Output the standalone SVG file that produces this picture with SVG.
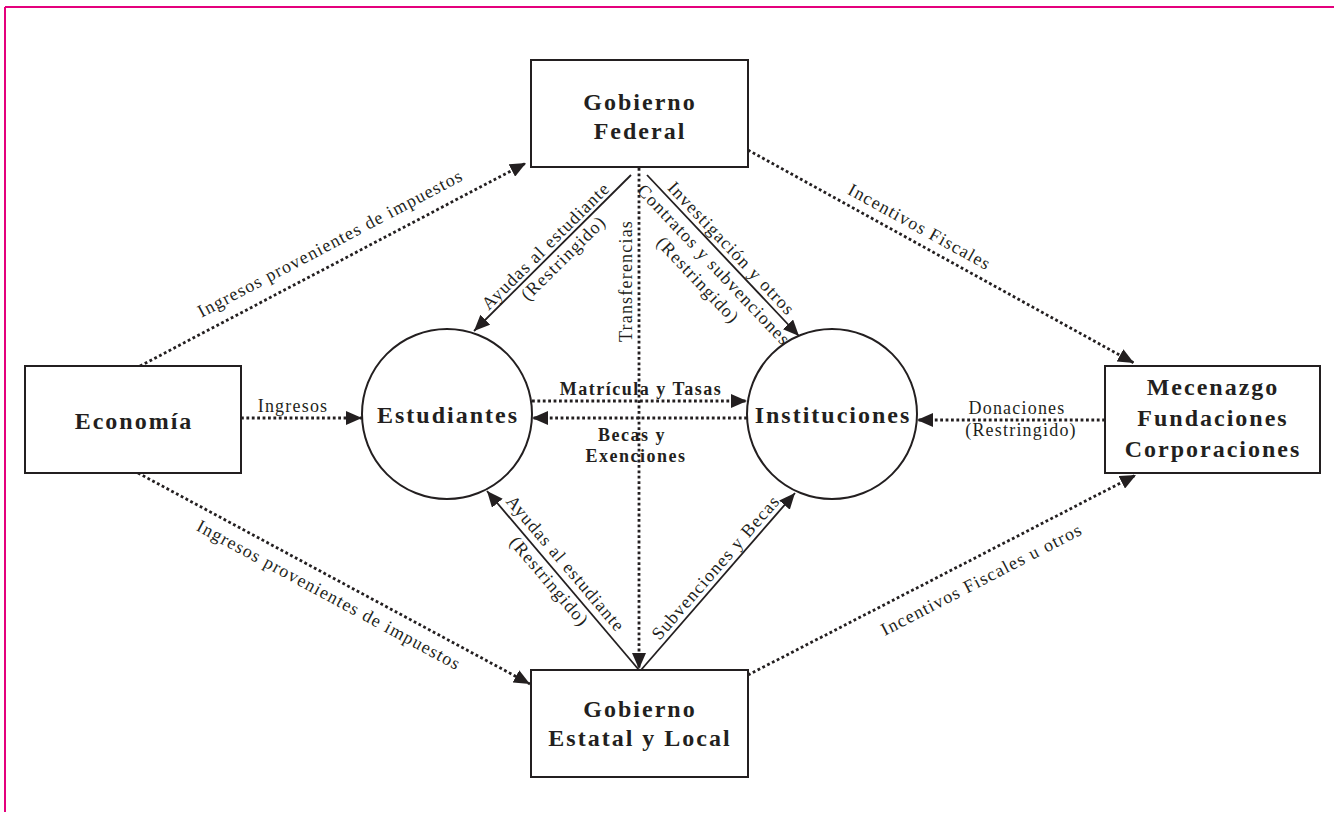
<svg xmlns="http://www.w3.org/2000/svg" width="1334" height="817" viewBox="0 0 1334 817">
<style>
.box{fill:#fff;stroke:#231f20;stroke-width:2}
.node{font-family:"Liberation Serif",serif;font-weight:bold;font-size:24px;letter-spacing:2px;fill:#231f20;text-anchor:middle}
.lbl{font-family:"Liberation Serif",serif;font-size:18px;letter-spacing:1.2px;fill:#231f20;text-anchor:middle}
.lblb{font-family:"Liberation Serif",serif;font-weight:bold;font-size:18px;letter-spacing:1.5px;fill:#231f20;text-anchor:middle}
.dot{fill:none;stroke:#231f20;stroke-width:2.8;stroke-dasharray:2.8 2.6;marker-end:url(#arr)}
.sol{fill:none;stroke:#231f20;stroke-width:1.8;marker-end:url(#arr)}
.frame{stroke:#e4007c;fill:none}
</style>
<defs>
<marker id="arr" markerUnits="userSpaceOnUse" markerWidth="16" markerHeight="14" refX="16" refY="7" orient="auto">
<path d="M0,0 L16,7 L0,14 Z" fill="#231f20"/>
</marker>
</defs>
<rect width="1334" height="817" fill="#fff"/>
<line class="frame" x1="5" y1="7" x2="1334" y2="7" stroke-width="2.2"/>
<line class="frame" x1="5" y1="7" x2="5" y2="812" stroke-width="2"/>

<g id="connectors">
<line class="dot" x1="140" y1="366" x2="526" y2="163"/>
<line class="dot" x1="138" y1="473" x2="530" y2="684"/>
<line class="dot" x1="241" y1="418" x2="362" y2="418"/>
<line class="sol" x1="631" y1="175" x2="474" y2="331"/>
<line class="sol" x1="647" y1="175" x2="799" y2="336"/>
<line class="dot" x1="639" y1="168" x2="639" y2="669"/>
<line class="sol" x1="639" y1="670" x2="487" y2="491"/>
<line class="sol" x1="641" y1="670" x2="795" y2="493"/>
<line class="dot" x1="532" y1="401" x2="747" y2="401"/>
<line class="dot" x1="747" y1="418" x2="532" y2="418"/>
<line class="dot" x1="1105" y1="420" x2="917" y2="420"/>
<line class="dot" x1="748" y1="150" x2="1134" y2="363"/>
<line class="dot" x1="748" y1="675" x2="1136" y2="475"/>

<text class="lbl" transform="translate(339.6,261) rotate(-27.74)" y="-14">Ingresos provenientes de impuestos</text>
<text class="lbl" transform="translate(337,580) rotate(28.29)" y="23">Ingresos provenientes de impuestos</text>
<text class="lbl" x="293" y="412">Ingresos</text>
<g transform="translate(552.7,253) rotate(-44.8)">
<text class="lbl" y="-4">Ayudas al estudiante</text>
<text class="lbl" x="4" y="17">(Restringido)</text>
</g>
<g transform="translate(723.5,256) rotate(46.65)">
<text class="lbl" y="-5">Investigación y otros</text>
<text class="lbl" y="19">Contratos y subvenciones</text>
<text class="lbl" y="41">(Restringido)</text>
</g>
<text class="lbl" transform="translate(632,281) rotate(-90)">Transferencias</text>
<g transform="translate(555.8,572) rotate(49.66)">
<text class="lbl" y="-7">Ayudas al estudiante</text>
<text class="lbl" x="3" y="17">(Restringido)</text>
</g>
<text class="lbl" transform="translate(724,574.6) rotate(-48.97)" y="-5">Subvenciones y Becas</text>
<text class="lblb" x="641" y="395">Matrícula y Tasas</text>
<text class="lblb" x="632" y="441">Becas y</text>
<text class="lblb" x="636" y="462">Exenciones</text>
<text class="lbl" x="1017" y="414">Donaciones</text>
<text class="lbl" x="1021" y="436">(Restringido)</text>
<text class="lbl" transform="translate(912,240.8) rotate(28.83)" y="-10">Incentivos Fiscales</text>
<text class="lbl" transform="translate(971.5,559.8) rotate(-27.27)" y="28">Incentivos Fiscales u otros</text>
</g>

<g id="gobierno-federal">
<rect class="box" x="531" y="60" width="217" height="107"/>
<text class="node" x="640" y="110">Gobierno</text>
<text class="node" x="640" y="139">Federal</text>
</g>
<g id="economia">
<rect class="box" x="25" y="366" width="216" height="107"/>
<text class="node" x="134" y="429">Economía</text>
</g>
<g id="estudiantes">
<circle class="box" cx="447" cy="414" r="85"/>
<text class="node" x="448" y="423">Estudiantes</text>
</g>
<g id="instituciones">
<circle class="box" cx="832" cy="414" r="85"/>
<text class="node" x="833" y="423">Instituciones</text>
</g>
<g id="mecenazgo">
<rect class="box" x="1105" y="366" width="215" height="107"/>
<text class="node" x="1213" y="395">Mecenazgo</text>
<text class="node" x="1213" y="426">Fundaciones</text>
<text class="node" x="1213" y="457">Corporaciones</text>
</g>
<g id="gobierno-estatal">
<rect class="box" x="531" y="670" width="217" height="107"/>
<text class="node" x="640" y="717">Gobierno</text>
<text class="node" x="640" y="746">Estatal y Local</text>
</g>
</svg>
